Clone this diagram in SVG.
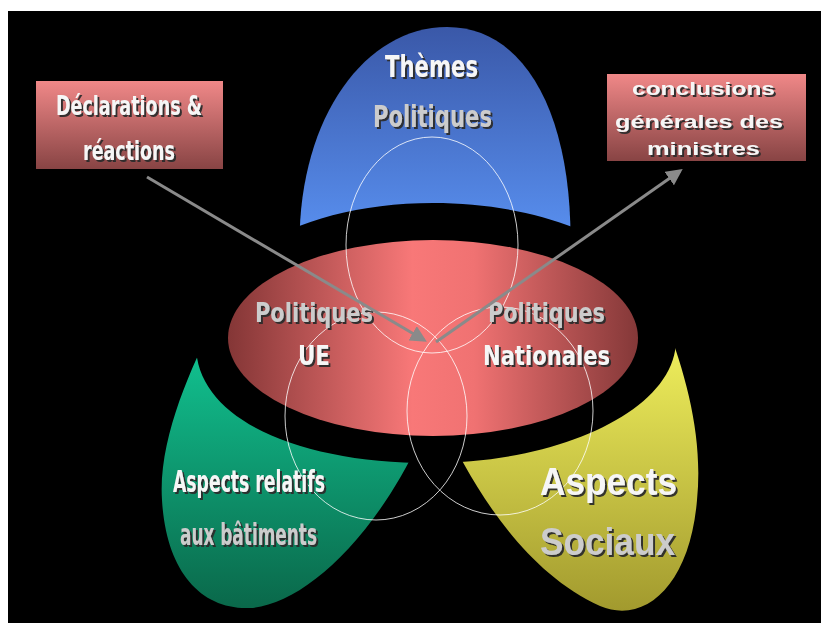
<svg xmlns="http://www.w3.org/2000/svg" width="821" height="623" viewBox="0 0 821 623">
  <defs>
    <linearGradient id="gBlue" x1="0" y1="0" x2="0" y2="1">
      <stop offset="0" stop-color="#3a58a8"/>
      <stop offset="1" stop-color="#5c96f8"/>
    </linearGradient>
    <linearGradient id="gGreen" x1="0" y1="0" x2="0" y2="1">
      <stop offset="0" stop-color="#12cc98"/>
      <stop offset="1" stop-color="#0a684a"/>
    </linearGradient>
    <linearGradient id="gYellow" x1="0" y1="0" x2="0" y2="1">
      <stop offset="0" stop-color="#f6f660"/>
      <stop offset="1" stop-color="#a29a2e"/>
    </linearGradient>
    <linearGradient id="gCore" x1="0" y1="0" x2="1" y2="0">
      <stop offset="0" stop-color="#843636"/>
      <stop offset="0.45" stop-color="#f87878"/>
      <stop offset="0.6" stop-color="#f07272"/>
      <stop offset="1" stop-color="#843838"/>
    </linearGradient>
    <linearGradient id="gBox" x1="0" y1="0" x2="0" y2="1">
      <stop offset="0" stop-color="#f08888"/>
      <stop offset="1" stop-color="#884444"/>
    </linearGradient>
    <filter id="emboss" x="-10%" y="-20%" width="130%" height="150%">
      <feDropShadow dx="2" dy="2" stdDeviation="0.6" flood-color="#2a2a2a" flood-opacity="0.95"/>
    </filter>
    <marker id="arrowHead" viewBox="0 0 10 10" refX="8" refY="5" markerWidth="5.5" markerHeight="5.5" orient="auto" markerUnits="strokeWidth">
      <path d="M0,0 L10,5 L0,10 Z" fill="#8a8a8a"/>
    </marker>
  </defs>
  <style>
    .lbl { font-family: "DejaVu Sans Condensed", "Liberation Sans Narrow", "Liberation Sans", sans-serif; font-weight: bold; font-stretch: condensed; filter: url(#emboss); }
    .wide { font-family: "Liberation Sans", Arial, sans-serif; font-weight: bold; filter: url(#emboss); }
    .w { fill: #f6f6f6; }
    .g { fill: #cccccc; }
    .ring { fill: none; stroke: #ffffff; stroke-opacity: 0.8; stroke-width: 1; }
    .conn { stroke: #8a8a8a; stroke-width: 3; fill: none; marker-end: url(#arrowHead); }
  </style>

  <!-- page background -->
  <rect x="0" y="0" width="821" height="623" fill="#ffffff"/>
  <rect x="8" y="11" width="813" height="612" fill="#000000"/>

  <!-- outer petals -->
  <g id="themes">
    <path d="M300,262 C293,125 362,27 447,27 C530,27 576,125 570,262 Z" fill="url(#gBlue)"/>
  </g>
  <g id="batiments">
    <path d="M215,320 C190,370 158,440 162,500 C166,570 200,610 250,608 C300,605 370,545 420,440 Z" fill="url(#gGreen)"/>
  </g>
  <g id="sociaux">
    <path d="M443,423 C470,480 520,570 600,606 C645,625 690,585 697,500 C703,440 688,380 665,320 Z" fill="url(#gYellow)"/>
  </g>

  <!-- central core with its black halo -->
  <g id="core">
    <path d="M196,345 C196,262 300,203 433,203 C566,203 680,262 676,340 C676,410 560,463 430,463 C300,463 196,420 196,345 Z" fill="#000000"/>
    <ellipse cx="433" cy="338" rx="205" ry="98" fill="url(#gCore)"/>
  </g>

  <!-- overlapping rings -->
  <g id="rings">
    <ellipse class="ring" cx="432" cy="245" rx="86" ry="108"/>
    <ellipse class="ring" cx="376" cy="416" rx="91" ry="104"/>
    <ellipse class="ring" cx="500" cy="411" rx="93" ry="104"/>
  </g>

  <!-- labels inside the shapes -->
  <g id="themes-label">
    <text class="lbl w" x="385" y="77" font-size="30" textLength="93" lengthAdjust="spacingAndGlyphs">Thèmes</text>
    <text class="lbl g" x="373" y="127" font-size="30" textLength="119" lengthAdjust="spacingAndGlyphs">Politiques</text>
  </g>
  <g id="ue-label">
    <text class="lbl g" x="255" y="322" font-size="27" textLength="118" lengthAdjust="spacingAndGlyphs">Politiques</text>
    <text class="lbl w" x="298" y="365" font-size="26" textLength="32" lengthAdjust="spacingAndGlyphs">UE</text>
  </g>
  <g id="nationales-label">
    <text class="lbl g" x="488" y="322" font-size="27" textLength="117" lengthAdjust="spacingAndGlyphs">Politiques</text>
    <text class="lbl w" x="483" y="365" font-size="26" textLength="127" lengthAdjust="spacingAndGlyphs">Nationales</text>
  </g>
  <g id="batiments-label">
    <text class="lbl w" x="173" y="492" font-size="30" textLength="152" lengthAdjust="spacingAndGlyphs">Aspects relatifs</text>
    <text class="lbl g" x="180" y="545" font-size="30" textLength="137" lengthAdjust="spacingAndGlyphs">aux bâtiments</text>
  </g>
  <g id="sociaux-label">
    <text class="wide w" x="540" y="495" font-size="39" textLength="137" lengthAdjust="spacingAndGlyphs">Aspects</text>
    <text class="wide g" x="540" y="555" font-size="39" textLength="135" lengthAdjust="spacingAndGlyphs">Sociaux</text>
  </g>

  <!-- input and output boxes -->
  <g id="declarations">
    <rect x="36" y="81" width="187" height="88" fill="url(#gBox)"/>
    <text class="lbl w" x="56" y="115" font-size="27" textLength="146" lengthAdjust="spacingAndGlyphs">Déclarations &amp;</text>
    <text class="lbl w" x="83" y="160" font-size="27" textLength="92" lengthAdjust="spacingAndGlyphs">réactions</text>
  </g>
  <g id="conclusions">
    <rect x="607" y="74" width="199" height="87" fill="url(#gBox)"/>
    <text class="wide w" x="632" y="95" font-size="18" textLength="143" lengthAdjust="spacingAndGlyphs">conclusions</text>
    <text class="wide w" x="615" y="128" font-size="18" textLength="168" lengthAdjust="spacingAndGlyphs">générales des</text>
    <text class="wide w" x="647" y="155" font-size="18" textLength="113" lengthAdjust="spacingAndGlyphs">ministres</text>
  </g>

  <!-- connectors -->
  <g id="connectors">
    <line class="conn" x1="147" y1="177" x2="424" y2="340"/>
    <line class="conn" x1="436" y1="342" x2="680" y2="171"/>
  </g>
</svg>
